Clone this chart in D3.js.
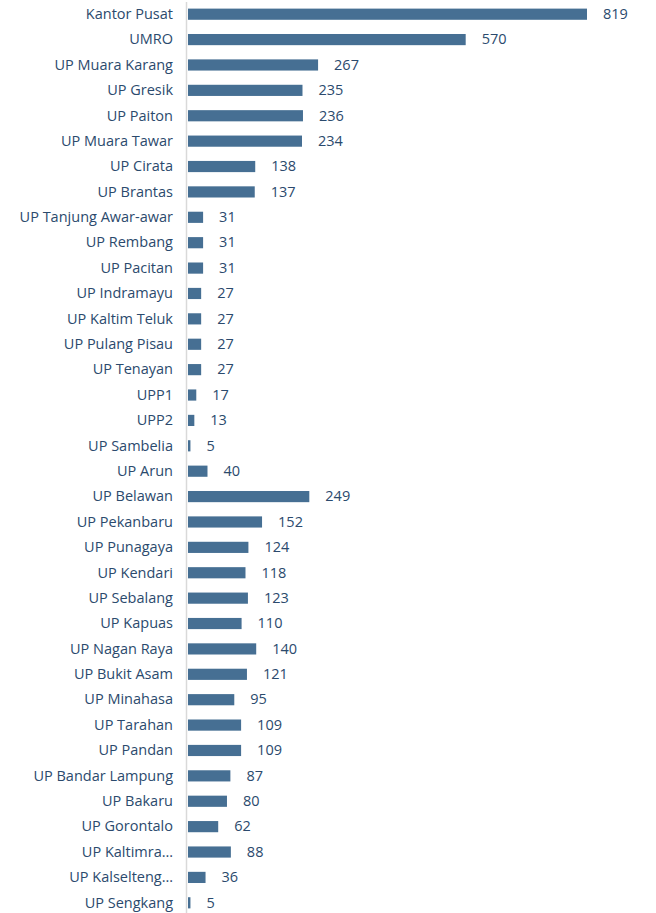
<!DOCTYPE html>
<html lang="en">
<head>
<meta charset="UTF-8">
<title>Units</title>
<script src="https://d3js.org/d3.v7.min.js"></script>
<style>
    body { margin: 0; padding: 0; background: #fff; }
    svg text { font-family: "Open Sans", sans-serif; font-size: 14.5px; fill: #2b4a6d; }
</style>
</head>
<body>
<svg width="656" height="913"></svg>
<script>
    const units = ["Kantor Pusat", "UMRO", "UP Muara Karang", "UP Gresik", "UP Paiton", "UP Muara Tawar",
        "UP Cirata", "UP Brantas", "UP Tanjung Awar-awar", "UP Rembang", "UP Pacitan", "UP Indramayu",
        "UP Kaltim Teluk", "UP Pulang Pisau", "UP Tenayan", "UPP1", "UPP2", "UP Sambelia", "UP Arun",
        "UP Belawan", "UP Pekanbaru", "UP Punagaya", "UP Kendari", "UP Sebalang", "UP Kapuas",
        "UP Nagan Raya", "UP Bukit Asam", "UP Minahasa", "UP Tarahan", "UP Pandan", "UP Bandar Lampung",
        "UP Bakaru", "UP Gorontalo", "UP Kaltimra\u2026", "UP Kalselteng\u2026", "UP Sengkang"];
    const counts = [819, 570, 267, 235, 236, 234, 138, 137, 31, 31, 31, 27, 27, 27, 27, 17, 13, 5, 40,
        249, 152, 124, 118, 123, 110, 140, 121, 95, 109, 109, 87, 80, 62, 88, 36, 5];

    const svg = d3.select("svg");
    const x0 = 188;

    const x = d3.scaleLinear().domain([0, 819]).range([x0, 587]);
    const y = d3.scaleBand().domain(units).range([1.5, 915.5]).paddingInner(0.56).paddingOuter(0.28);

    const rows = units.map((u, i) => ({ name: u, value: counts[i] }));

    // axis line
    svg.append("line")
        .attr("x1", x0 - 1.5).attr("x2", x0 - 1.5)
        .attr("y1", 2).attr("y2", 913)
        .attr("stroke", "#d9d9d9").attr("stroke-width", 1.5);

    svg.append("g").selectAll("rect")
        .data(rows)
        .enter().append("rect")
        .attr("x", x0)
        .attr("y", d => y(d.name))
        .attr("width", d => x(d.value) - x0)
        .attr("height", y.bandwidth())
        .attr("fill", "#466f93");

    svg.append("g").selectAll("text")
        .data(rows)
        .enter().append("text")
        .attr("x", 173)
        .attr("y", d => y(d.name) + y.bandwidth() / 2)
        .attr("dy", "0.33em")
        .attr("text-anchor", "end")
        .text(d => d.name);

    svg.append("g").selectAll("text")
        .data(rows)
        .enter().append("text")
        .attr("x", d => x(d.value) + 16)
        .attr("y", d => y(d.name) + y.bandwidth() / 2)
        .attr("dy", "0.33em")
        .text(d => d.value);
</script>
</body>
</html>
